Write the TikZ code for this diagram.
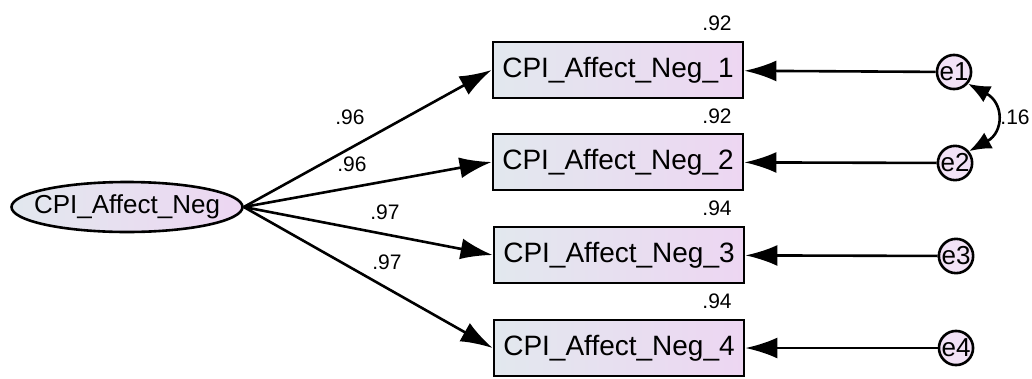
\documentclass[tikz,border=0pt]{standalone}
\usepackage{fontspec}
\setmainfont{Liberation Sans}
\usetikzlibrary{arrows.meta,shapes.geometric}
\definecolor{fillL}{HTML}{E2E8EE}
\definecolor{fillR}{HTML}{EDD6F2}
\tikzset{
  big/.style={font=\fontsize{28}{30}\selectfont},
  obs/.style={draw, line width=2.8pt, minimum width=250pt, minimum height=56pt,
    inner sep=0pt, shading=axis, left color=fillL, right color=fillR, big},
  lat/.style={draw, ellipse, line width=2.6pt, minimum width=231pt, minimum height=50pt,
    inner sep=0pt, shading=axis, left color=fillL, right color=fillR},
  err/.style={draw, circle, line width=2.6pt, minimum size=34pt, inner sep=0pt,
    fill=fillR!70!white, font=\fontsize{26}{28}\selectfont},
  path/.style={line width=2.6pt, -{Latex[length=32pt,width=21pt]}},
  cov/.style={line width=2.6pt, {Latex[length=22pt,width=18pt]}-{Latex[length=22pt,width=18pt]}},
  val/.style={font=\fontsize{21}{23}\selectfont, inner sep=0pt}
}
\begin{document}
\begin{tikzpicture}[x=1pt, y=-1pt]
  \useasboundingbox (0,0) rectangle (1032,378);
  % latent factor (name set as a centred label so the ellipse keeps its size)
  \node[lat, label={[font=\fontsize{26}{28}\selectfont]center:CPI\_Affect\_Neg}] (F) at (127,207) {};
  % indicators
  \node[obs] (v1) at (618,70) {CPI\_Affect\_Neg\_1};
  \node[obs] (v2) at (618,162) {CPI\_Affect\_Neg\_2};
  \node[obs] (v3) at (619,255) {CPI\_Affect\_Neg\_3};
  \node[obs] (v4) at (619,348) {CPI\_Affect\_Neg\_4};
  % error terms
  \node[err] (e1) at (954,72) {e1};
  \node[err] (e2) at (955,163) {e2};
  \node[err] (e3) at (956,256) {e3};
  \node[err] (e4) at (956,348) {e4};
  % loadings
  \foreach \v in {v1,v2,v3,v4} \draw[path] (F.east) -- (\v.west);
  % error paths
  \draw[path] (e1) -- (v1);
  \draw[path] (e2) -- (v2);
  \draw[path] (e3) -- (v3);
  \draw[path] (e4) -- (v4);
  % error covariance
  \draw[cov] (e1.-40) .. controls (1004,103) and (1004,132) .. (e2.40);
  % estimates
  \node[val] (r1) at (717,23) {.92};
  \node[val] (r2) at (717,116) {.92};
  \node[val] (r3) at (717,208) {.94};
  \node[val] (r4) at (717,301) {.94};
  \node[val] (l1) at (350,117) {.96};
  \node[val] (l2) at (352,164) {.96};
  \node[val] (l3) at (385,212) {.97};
  \node[val] (l4) at (387,262) {.97};
  \node[val] (c12) at (1015,117) {.16};
\end{tikzpicture}
\end{document}
